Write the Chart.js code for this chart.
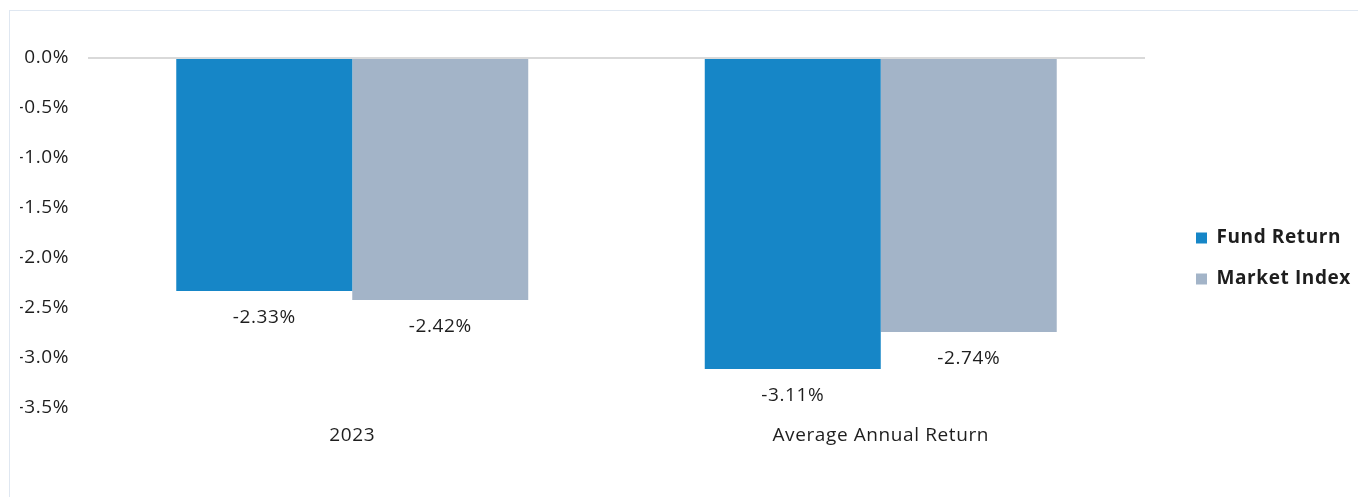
<!DOCTYPE html>
<html>
<head>
<meta charset="utf-8">
<script src="https://cdn.jsdelivr.net/npm/chart.js@4.4.0/dist/chart.umd.min.js"></script>
<style>
  html, body { margin: 0; padding: 0; background: #fff; overflow: hidden; }
  #frame {
    position: absolute; left: 9px; top: 10px;
    width: 1400px; height: 600px;
    border: 1px solid #dfe7f1; box-sizing: border-box;
  }
  #wrap { position: absolute; left: 0; top: 0; width: 1358px; height: 497px; }
</style>
</head>
<body>
<div id="frame"></div>
<div id="wrap"><canvas id="grafico"></canvas></div>
<script>
// Dados do gráfico
const categorias = ['2023', 'Average Annual Return'];
const fundReturn = [-2.33, -3.11];
const marketIndex = [-2.42, -2.74];
const yTicks = [0, -0.5, -1, -1.5, -2, -2.5, -3, -3.5];

const fonte = '"Open Sans", "Noto Sans", sans-serif';
const corTexto = '#1e1e1e';
const espacamento = '0.6px';

// Espaçamento entre letras (o original usa uma fonte mais larga)
const espacoLetras = {
  id: 'espacoLetras',
  beforeLayout(chart) { chart.ctx.letterSpacing = espacamento; },
  beforeDraw(chart) { chart.ctx.letterSpacing = espacamento; }
};

// Legenda com largura fixa e itens afastados da área do gráfico
const ajusteLegenda = {
  id: 'ajusteLegenda',
  beforeLayout(chart) {
    const leg = chart.legend;
    if (leg && !leg._ajustada) {
      const fitOrig = leg.fit;
      leg.fit = function () { fitOrig.call(this); this.width = 213; };
      leg._ajustada = true;
    }
  },
  afterLayout(chart) {
    chart.legend.left += 29;
    chart.legend.right += 29;
    chart.legend.top += 2;
    chart.legend.bottom += 2;
  }
};

// Rótulos abaixo das barras
const rotulosBarras = {
  id: 'rotulosBarras',
  afterDatasetsDraw(chart) {
    const ctx = chart.ctx;
    ctx.save();
    ctx.font = '19px ' + fonte;
    ctx.fillStyle = corTexto;
    ctx.textAlign = 'center';
    ctx.textBaseline = 'middle';
    chart.data.datasets.forEach((ds, i) => {
      chart.getDatasetMeta(i).data.forEach((bar, j) => {
        ctx.fillText(ds.data[j].toFixed(2) + '%', bar.x, bar.y + 27);
      });
    });
    ctx.restore();
  }
};

const ctx = document.getElementById('grafico').getContext('2d');
new Chart(ctx, {
  type: 'bar',
  data: {
    labels: categorias,
    datasets: [
      { label: 'Fund Return', data: fundReturn, backgroundColor: '#1686c7' },
      { label: 'Market Index', data: marketIndex, backgroundColor: '#a3b4c8' }
    ]
  },
  options: {
    responsive: true,
    maintainAspectRatio: false,
    animation: false,
    categoryPercentage: 0.666,
    barPercentage: 1,
    layout: { padding: { top: 58, bottom: 42, left: 20, right: 0 } },
    plugins: {
      legend: {
        position: 'right',
        labels: {
          color: corTexto,
          font: { family: fonte, size: 19, weight: 'bold' },
          boxWidth: 11,
          boxHeight: 11,
          padding: 22
        }
      },
      tooltip: { enabled: false }
    },
    scales: {
      x: {
        grid: { display: false, drawTicks: false },
        border: { display: false },
        ticks: { color: corTexto, font: { family: fonte, size: 19 }, padding: 16 },
        afterFit(scale) { scale.height = 47; }
      },
      y: {
        min: -3.5,
        max: 0,
        afterBuildTicks(scale) { scale.ticks = yTicks.map(v => ({ value: v })); },
        afterFit(scale) { scale.width = 68; },
        border: { display: false },
        grid: {
          drawTicks: false,
          color: c => (c.tick && c.tick.value === 0 ? '#d9d9d9' : 'rgba(0,0,0,0)'),
          lineWidth: 2
        },
        ticks: {
          color: corTexto,
          font: { family: fonte, size: 19 },
          padding: 19,
          callback: v => v.toFixed(1) + '%'
        }
      }
    }
  },
  plugins: [espacoLetras, ajusteLegenda, rotulosBarras]
});
</script>
</body>
</html>
